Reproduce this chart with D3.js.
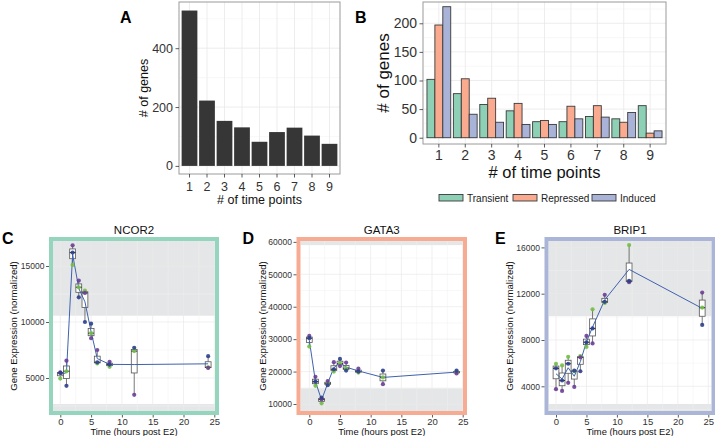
<!DOCTYPE html>
<html><head><meta charset="utf-8">
<script src="https://cdn.jsdelivr.net/npm/d3@7"></script>
<style>body{margin:0;background:#fff} svg{display:block;font-family:"Liberation Sans",Arial,Helvetica,sans-serif}</style>
</head><body><svg id="c" width="715" height="436"></svg>
<script>
// ---------- data ----------
const timePoints = ["1","2","3","4","5","6","7","8","9"];
const genesA = [528,222,153,131,82,115,130,103,75];
const ticksA = [0,200,400];
const minorA = [100,300,500];

const seriesB = ["Transient","Repressed","Induced"];
const transient = [102,77,58,47,28,28,37,33,56];
const repressed = [197,103,69,60,30,55,56,27,8];
const induced = [229,41,27,23,23,33,36,44,12];
const ticksB = [0,50,100,150,200];
const minorB = [25,75,125,175,225];
const colorsB = ["#8ed0b5","#f9aa8f","#a8b3d7"];

const hours = [0,1,2,3,4,5,6,8,12,24];
const hourTicks = [0,5,10,15,20,25];
const hourMinor = [2.5,7.5,12.5,17.5,22.5];

const ncor2Green  = [4950,5600,15100,13100,12800,9000,6300,6000,7400,5950];
const ncor2Purple = [5500,6550,16850,13700,12600,8550,7500,6450,3500,5900];
const ncor2Navy   = [5450,4300,16200,12200,10000,9850,6400,6200,7700,6950];
const ncor2Ticks = [5000,10000,15000];
const ncor2Minor = [2500,7500,12500,17500];
const ncor2Bands = [[10560,30000],[0,2680]];

const gata3Green  = [27700,15600,10200,16300,20000,22500,21000,19700,18200,19800];
const gata3Purple = [31000,18400,11400,17100,22900,21700,22800,20900,16100,19400];
const gata3Navy   = [30300,16900,12000,15800,20700,23900,20300,20000,20300,20300];
const gata3Ticks = [10000,20000,30000,40000,50000,60000];
const gata3Minor = [15000,25000,35000,45000,55000];
const gata3Bands = [[59000,90000],[0,14850]];

const brip1Green  = [5950,5800,6550,5300,6600,7400,10650,11200,16200,10800];
const brip1Purple = [3750,3600,4300,3950,6500,8350,7700,11900,13000,12100];
const brip1Navy   = [5550,4500,5950,5350,5300,7800,9000,11300,13100,9300];
const brip1Ticks = [4000,8000,12000,16000];
const brip1Minor = [2000,6000,10000,14000];
const brip1Bands = [[10070,30000],[0,2470]];

const repColors = ["#72bf44","#6b3d96","#2e3f8c"];

// ---------- drawing ----------
const FONT = '"Liberation Sans", Arial, Helvetica, sans-serif';
const svg = d3.select("#c");

function styleAxis(g, size, color){
  g.attr("font-family", FONT).attr("font-size", size);
  g.select(".domain").remove();
  g.selectAll(".tick line").attr("stroke","#333").attr("stroke-width",0.8);
  g.selectAll(".tick text").attr("fill", color || "#333");
}

// Panel A
(function(){
  const L=179,R=340,T=2,B=174;
  const x = d3.scaleBand().domain(timePoints).range([L,R]).paddingInner(0.1).paddingOuter(0.15);
  const y = d3.scaleLinear().domain([-27.5,557]).range([B,T]);
  const g = svg.append("g");
  g.append("rect").attr("x",L).attr("y",T).attr("width",R-L).attr("height",B-T).attr("fill","#fff");
  minorA.forEach(v=>g.append("line").attr("x1",L).attr("x2",R).attr("y1",y(v)).attr("y2",y(v)).attr("stroke","#f3f3f3").attr("stroke-width",0.6));
  ticksA.forEach(v=>g.append("line").attr("x1",L).attr("x2",R).attr("y1",y(v)).attr("y2",y(v)).attr("stroke","#e8e8e8").attr("stroke-width",0.8));
  timePoints.forEach(c=>g.append("line").attr("y1",T).attr("y2",B).attr("x1",x(c)+x.bandwidth()/2).attr("x2",x(c)+x.bandwidth()/2).attr("stroke","#e8e8e8").attr("stroke-width",0.8));
  g.selectAll("rect.bar").data(genesA).join("rect").attr("class","bar")
    .attr("x",(d,i)=>x(timePoints[i])).attr("width",x.bandwidth())
    .attr("y",d=>y(d)).attr("height",d=>y(0)-y(d)).attr("fill","#363636");
  g.append("rect").attr("x",L).attr("y",T).attr("width",R-L).attr("height",B-T).attr("fill","none").attr("stroke","#9a9a9a").attr("stroke-width",1);
  styleAxis(g.append("g").attr("transform",`translate(0,${B})`).call(d3.axisBottom(x).tickSize(3.5).tickPadding(4.5)),12.5);
  styleAxis(g.append("g").attr("transform",`translate(${L},0)`).call(d3.axisLeft(y).tickValues(ticksA).tickSize(3.5).tickPadding(2.5)),12.5);
  g.append("text").attr("x",(L+R)/2).attr("y",204).attr("text-anchor","middle").attr("font-size",12.5).attr("fill","#111").text("# of time points");
  g.append("text").attr("transform",`translate(148,${(T+B)/2}) rotate(-90)`).attr("text-anchor","middle").attr("font-size",12.5).attr("fill","#111").text("# of genes");
  g.append("text").attr("x",120).attr("y",23).attr("font-size",16).attr("font-weight","bold").text("A");
})();

// Panel B
(function(){
  const L=423,R=666,T=2,B=144;
  const x = d3.scaleBand().domain(timePoints).range([L,R]).paddingInner(0.1).paddingOuter(0.15);
  const xs = d3.scaleBand().domain(seriesB).range([0,x.bandwidth()]).padding(0);
  const y = d3.scaleLinear().domain([-11,237.2]).range([B,T]);
  const vals = [transient,repressed,induced];
  const g = svg.append("g");
  g.append("rect").attr("x",L).attr("y",T).attr("width",R-L).attr("height",B-T).attr("fill","#fff");
  minorB.forEach(v=>g.append("line").attr("x1",L).attr("x2",R).attr("y1",y(v)).attr("y2",y(v)).attr("stroke","#f3f3f3").attr("stroke-width",0.6));
  ticksB.forEach(v=>g.append("line").attr("x1",L).attr("x2",R).attr("y1",y(v)).attr("y2",y(v)).attr("stroke","#e8e8e8").attr("stroke-width",0.8));
  timePoints.forEach(c=>g.append("line").attr("y1",T).attr("y2",B).attr("x1",x(c)+x.bandwidth()/2).attr("x2",x(c)+x.bandwidth()/2).attr("stroke","#e8e8e8").attr("stroke-width",0.8));
  seriesB.forEach((s,si)=>{
    g.selectAll(null).data(vals[si]).join("rect")
      .attr("x",(d,i)=>x(timePoints[i])+xs(s)).attr("width",xs.bandwidth())
      .attr("y",d=>y(d)).attr("height",d=>y(0)-y(d))
      .attr("fill",colorsB[si]).attr("stroke","#3a3a3a").attr("stroke-width",0.9);
  });
  g.append("rect").attr("x",L).attr("y",T).attr("width",R-L).attr("height",B-T).attr("fill","none").attr("stroke","#9a9a9a").attr("stroke-width",1);
  styleAxis(g.append("g").attr("transform",`translate(0,${B})`).call(d3.axisBottom(x).tickSize(3.5).tickPadding(3)),14);
  styleAxis(g.append("g").attr("transform",`translate(${L},0)`).call(d3.axisLeft(y).tickValues(ticksB).tickSize(3.5).tickPadding(2.5)),14);
  g.append("text").attr("x",(L+R)/2).attr("y",178).attr("text-anchor","middle").attr("font-size",16.5).attr("fill","#111").text("# of time points");
  g.append("text").attr("transform",`translate(389,${(T+B)/2}) rotate(-90)`).attr("text-anchor","middle").attr("font-size",17).attr("fill","#111").text("# of genes");
  g.append("text").attr("x",355).attr("y",23).attr("font-size",16).attr("font-weight","bold").text("B");
  // legend
  const lx = [439,513,592];
  seriesB.forEach((s,i)=>{
    g.append("rect").attr("x",lx[i]).attr("y",194.5).attr("width",24).attr("height",6.5).attr("fill",colorsB[i]).attr("stroke","#3a3a3a").attr("stroke-width",0.9);
    g.append("text").attr("x",lx[i]+28).attr("y",201.5).attr("font-size",10).attr("fill","#222").text(s);
  });
})();

function genePanel(cfg){
  const [L,R,T,B] = cfg.panel;
  const x = d3.scaleLinear().domain([0,25]).range(cfg.xr);
  const y = d3.scaleLinear().domain(cfg.yCal).range(cfg.yCalPx);
  const g = svg.append("g");
  const cid = "clip"+cfg.name;
  g.append("clipPath").attr("id",cid).append("rect").attr("x",L).attr("y",T).attr("width",R-L).attr("height",B-T);
  const inner = g.append("g").attr("clip-path",`url(#${cid})`);
  inner.append("rect").attr("x",L).attr("y",T).attr("width",R-L).attr("height",B-T).attr("fill","#fff");
  cfg.bands.forEach(([lo,hi])=>inner.append("rect").attr("x",L).attr("width",R-L).attr("y",y(hi)).attr("height",y(lo)-y(hi)).attr("fill","#e5e6e7"));
  hourMinor.forEach(v=>inner.append("line").attr("x1",x(v)).attr("x2",x(v)).attr("y1",T).attr("y2",B).attr("stroke","#f0f0f0").attr("stroke-width",0.5));
  hourTicks.forEach(v=>inner.append("line").attr("x1",x(v)).attr("x2",x(v)).attr("y1",T).attr("y2",B).attr("stroke","#e9e9e9").attr("stroke-width",0.7));
  cfg.minor.forEach(v=>inner.append("line").attr("y1",y(v)).attr("y2",y(v)).attr("x1",L).attr("x2",R).attr("stroke","#f0f0f0").attr("stroke-width",0.5));
  cfg.ticks.forEach(v=>inner.append("line").attr("y1",y(v)).attr("y2",y(v)).attr("x1",L).attr("x2",R).attr("stroke","#e9e9e9").attr("stroke-width",0.7));
  const reps = cfg.reps;
  const stats = hours.map((h,i)=>{
    const v = reps.map(r=>r[i]).sort(d3.ascending);
    return {h, min:v[0], max:v[v.length-1], q1:d3.quantile(v,0.25), med:d3.quantile(v,0.5), q3:d3.quantile(v,0.75), mean:d3.mean(v)};
  });
  const bw = x(0.95)-x(0);
  stats.forEach(s=>{
    const cx = x(s.h);
    inner.append("line").attr("x1",cx).attr("x2",cx).attr("y1",y(s.max)).attr("y2",y(s.q3)).attr("stroke","#555").attr("stroke-width",0.8);
    inner.append("line").attr("x1",cx).attr("x2",cx).attr("y1",y(s.q1)).attr("y2",y(s.min)).attr("stroke","#555").attr("stroke-width",0.8);
    inner.append("rect").attr("x",cx-bw/2).attr("width",bw).attr("y",y(s.q3)).attr("height",Math.max(0.8,y(s.q1)-y(s.q3))).attr("fill","#fff").attr("stroke","#555").attr("stroke-width",0.8);
    inner.append("line").attr("x1",cx-bw/2).attr("x2",cx+bw/2).attr("y1",y(s.med)).attr("y2",y(s.med)).attr("stroke","#333").attr("stroke-width",1.1);
  });
  inner.append("path").datum(stats).attr("fill","none").attr("stroke","#3f62ae").attr("stroke-width",1)
    .attr("d",d3.line().x(d=>x(d.h)).y(d=>y(d.mean)));
  reps.forEach((r,ri)=>{
    inner.selectAll(null).data(r).join("circle").attr("cx",(d,i)=>x(hours[i])).attr("cy",d=>y(d)).attr("r",2.1).attr("fill",repColors[ri]).attr("opacity",0.9);
  });
  // border
  g.append("rect").attr("x",L-2).attr("y",T-2).attr("width",R-L+4).attr("height",B-T+4).attr("fill","none").attr("stroke",cfg.border).attr("stroke-width",4);
  // axes
  styleAxis(g.append("g").attr("transform",`translate(${L-4},0)`).call(d3.axisLeft(y).tickValues(cfg.ticks).tickSize(3).tickPadding(1.5).tickFormat(d3.format("d"))),8.5);
  styleAxis(g.append("g").attr("transform",`translate(0,${B+4})`).call(d3.axisBottom(x).tickValues(hourTicks).tickSize(2.5).tickPadding(0.8)),9.5);
  g.append("text").attr("x",(L+R)/2).attr("y",435.2).attr("text-anchor","middle").attr("font-size",9.4).attr("fill","#111").text("Time (hours post E2)");
  g.append("text").attr("transform",`translate(${cfg.ytx},${(T+B)/2}) rotate(-90)`).attr("text-anchor","middle").attr("font-size",9.6).attr("fill","#111").text("Gene Expression (normalized)");
  g.append("text").attr("x",(L+R)/2).attr("y",234).attr("text-anchor","middle").attr("font-size",11.5).attr("fill","#111").text(cfg.name);
  g.append("text").attr("x",cfg.lx).attr("y",243.5).attr("font-size",16).attr("font-weight","bold").text(cfg.letter);
}

genePanel({name:"NCOR2",letter:"C",lx:2,ytx:16.5,panel:[53,215,241,411],xr:[60.3,214.3],yCal:[5000,15000],yCalPx:[378,266],
  reps:[ncor2Green,ncor2Purple,ncor2Navy],ticks:ncor2Ticks,minor:ncor2Minor,bands:ncor2Bands,border:"#95d4bd"});
genePanel({name:"GATA3",letter:"D",lx:242.5,ytx:266,panel:[300.5,463,241,411],xr:[309.3,462.7],yCal:[10000,50000],yCalPx:[404,274.3],
  reps:[gata3Green,gata3Purple,gata3Navy],ticks:gata3Ticks,minor:gata3Minor,bands:gata3Bands,border:"#f6ab92"});
genePanel({name:"BRIP1",letter:"E",lx:495,ytx:513,panel:[548.5,711.5,241,411],xr:[556,708.3],yCal:[4000,12000],yCalPx:[386.3,293.7],
  reps:[brip1Green,brip1Purple,brip1Navy],ticks:brip1Ticks,minor:brip1Minor,bands:brip1Bands,border:"#aab5d8"});
</script></body></html>
